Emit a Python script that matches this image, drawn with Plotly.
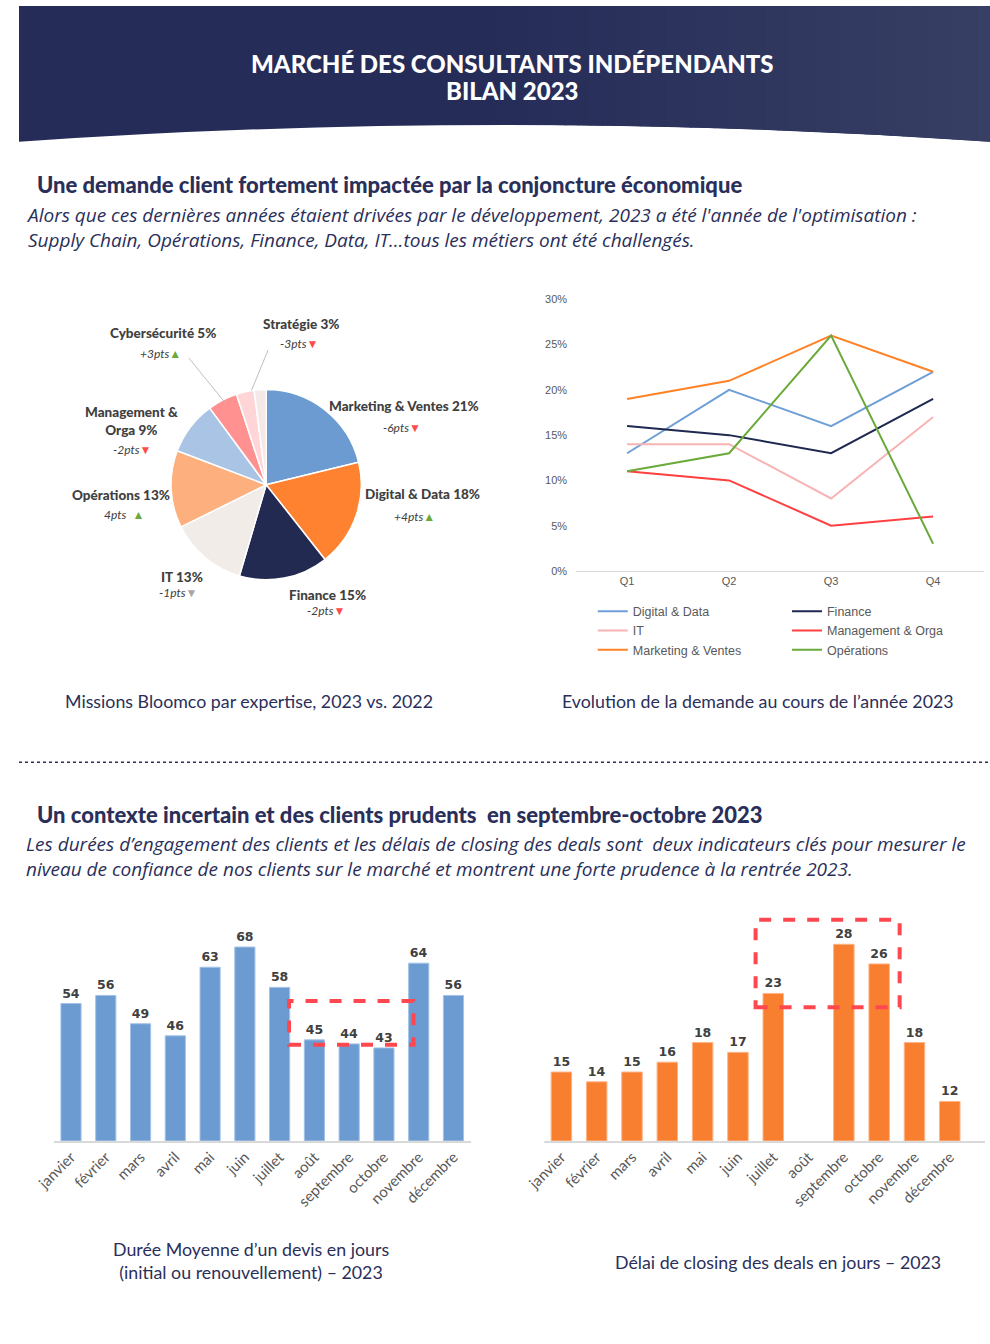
import plotly.graph_objects as go

W, H = 990, 1344

# ---------------- DATA ----------------
pie_labels = ["Marketing & Ventes", "Digital & Data", "Finance", "IT", "Opérations",
              "Management & Orga", "Cybersécurité", "Stratégie", "Autres"]
pie_values = [21, 18, 15, 13, 13, 9, 5, 3, 2]
pie_colors = ["#6C9BD2", "#FF8230", "#222A52", "#F2ECE9", "#FDB07D",
              "#A9C4E4", "#FF9191", "#FFD5D8", "#F4E9E6"]
pie_deltas = ["-6pts", "+4pts", "-2pts", "-1pts", "4pts", "-2pts", "+3pts", "-3pts", None]
pie_trend = ["down", "up", "down", "flat", "up", "down", "up", "down", None]

quarters = ["Q1", "Q2", "Q3", "Q4"]
line_series = {
    "Digital & Data": [13, 20, 16, 22],
    "Finance": [16, 15, 13, 19],
    "IT": [14, 14, 8, 17],
    "Management & Orga": [11, 10, 5, 6],
    "Marketing & Ventes": [19, 21, 26, 22],
    "Opérations": [11, 13, 26, 3],
}
line_colors = {
    "Digital & Data": "#6E9FD6",
    "Finance": "#1F2850",
    "IT": "#F8B4B4",
    "Management & Orga": "#FF4040",
    "Marketing & Ventes": "#FF8226",
    "Opérations": "#6AAA3A",
}
legend_col1 = ["Digital & Data", "IT", "Marketing & Ventes"]
pct_ticks = [0, 5, 10, 15, 20, 25, 30]
pct_labels = ["0%", "5%", "10%", "15%", "20%", "25%", "30%"]

months = ["janvier", "février", "mars", "avril", "mai", "juin", "juillet",
          "août", "septembre", "octobre", "novembre", "décembre"]
devis_days = [54, 56, 49, 46, 63, 68, 58, 45, 44, 43, 64, 56]
closing_days = [15, 14, 15, 16, 18, 17, 23, None, 28, 26, 18, 12]

NAVY = "#252C58"
TXT = "#2A2F5A"
LBL = "#404040"
GREY = "#595959"
FONT = "Lato"
IFONT = "Open Sans"


def px(x):
    return x / W


def py(y):
    return 1 - y / H


fig = go.Figure()

# ---------------- PIE ----------------
fig.add_trace(go.Pie(
    labels=pie_labels, values=pie_values, sort=False, direction="clockwise",
    rotation=0, marker=dict(colors=pie_colors, line=dict(color="white", width=1.5)),
    textinfo="none", hoverinfo="label+percent", showlegend=False,
    domain=dict(x=[px(155), px(349)], y=[py(580), py(386)]),
))

# ---------------- LINE CHART ----------------
for name, vals in line_series.items():
    fig.add_trace(go.Scatter(
        x=quarters, y=vals, mode="lines", name=name,
        line=dict(color=line_colors[name], width=2),
        xaxis="x", yaxis="y",
        legend="legend" if name in legend_col1 else "legend2",
    ))

# ---------------- BAR CHARTS ----------------
fig.add_trace(go.Bar(
    x=months, y=devis_days, xaxis="x2", yaxis="y2", showlegend=False,
    marker=dict(color="#6C9BD2", line=dict(color="#A4C2E6", width=1)),
    width=0.58,
    text=devis_days, textposition="outside", cliponaxis=False,
    textfont=dict(family="DejaVu Sans", size=12.5, color=LBL, weight="bold"),
))
fig.add_trace(go.Bar(
    x=months, y=closing_days, xaxis="x3", yaxis="y3", showlegend=False,
    marker=dict(color="#F87E30", line=dict(color="#FFB488", width=1)),
    width=0.58,
    text=[v if v is not None else "" for v in closing_days],
    textposition="outside", cliponaxis=False,
    textfont=dict(family="DejaVu Sans", size=12.5, color=LBL, weight="bold"),
))

shapes = []
annotations = []

# ---------------- HEADER ----------------
def curve_y(x):
    t = x / W
    return 137 - 68 * t * (1 - t)

shapes.append(dict(
    type="path", xref="paper", yref="paper", layer="below",
    path=f"M 0,{py(0)} L 1,{py(0)} L 1,{py(137)} Q 0.5,{py(103)} 0,{py(137)} Z",
    fillcolor=NAVY, line=dict(width=0),
))
c0 = (0x25, 0x2C, 0x58)
c1 = (0x37, 0x3F, 0x64)
n = 40
x_start = 480
for i in range(n):
    xa = x_start + (W - x_start) * i / n
    xb = min(x_start + (W - x_start) * (i + 1) / n + 1.5, W)
    f = (i + 0.5) / n
    col = "rgb({},{},{})".format(*[round(c0[k] + (c1[k] - c0[k]) * f) for k in range(3)])
    shapes.append(dict(
        type="path", xref="paper", yref="paper", layer="below",
        path=(f"M {px(xa)},{py(0)} L {px(xb)},{py(0)} L {px(xb)},{py(curve_y(xb))} "
              f"L {px(xa)},{py(curve_y(xa))} Z"),
        fillcolor=col, line=dict(width=0),
    ))

for txt, yy in [("MARCHÉ DES CONSULTANTS INDÉPENDANTS", 58), ("BILAN 2023", 85)]:
    annotations.append(dict(
        x=px(503), y=py(yy), xref="paper", yref="paper", showarrow=False,
        text=txt, font=dict(family=FONT, size=24, color="white", weight=900),
        align="center", xanchor="center", yanchor="middle",
    ))

# ---------------- SECTION TEXTS ----------------
def left_text(x, y, text, size, family=FONT, weight="normal", italic=False, color=TXT):
    t = f"<i>{text}</i>" if italic else text
    annotations.append(dict(x=px(x), y=py(y), xref="paper", yref="paper", showarrow=False,
                            text=t, font=dict(family=family, size=size, color=color, weight=weight),
                            xanchor="left", yanchor="middle", align="left"))


def center_text(x, y, text, size, color=TXT, family=FONT):
    annotations.append(dict(x=px(x), y=py(y), xref="paper", yref="paper", showarrow=False,
                            text=text, font=dict(family=family, size=size, color=color),
                            xanchor="center", yanchor="middle", align="center"))


left_text(16, 180, "Une demande client fortement impactée par la conjoncture économique", 22, weight=900)
left_text(5, 223, "Alors que ces dernières années étaient drivées par le développement, 2023 a été l'année de l'optimisation :"
          "<br>Supply Chain, Opérations, Finance, Data, IT…tous les métiers ont été challengés.", 19, family=IFONT, italic=True)

left_text(16, 816, "Un contexte incertain et des clients prudents  en septembre-octobre 2023", 22, weight=900)
left_text(5, 858, "Les durées d’engagement des clients et les délais de closing des deals sont  deux indicateurs clés pour mesurer le"
          "<br>niveau de confiance de nos clients sur le marché et montrent une forte prudence à la rentrée 2023.", 19, family=IFONT, italic=True)

center_text(234, 701, "Missions Bloomco par expertise, 2023 vs. 2022", 17.8)
center_text(753, 701, "Evolution de la demande au cours de l’année 2023", 17.8)
center_text(237, 1266, "Durée Moyenne d’un devis en jours<br>(initial ou renouvellement) – 2023", 17.8)
center_text(774, 1267, "Délai de closing des deals en jours – 2023", 17.8)

shapes.append(dict(type="line", xref="paper", yref="paper",
                   x0=0, x1=1, y0=py(763), y1=py(763),
                   line=dict(color=TXT, width=1.5, dash="dot")))

# ---------------- PIE LABELS ----------------
tri = {"up": ("▲", "#6AAA3A"), "down": ("▼", "#FF4B4B"), "flat": ("▼", "#A6A6A6")}
pie_label_pos = {
    "Marketing & Ventes": (393, 404, 390, 425),
    "Digital & Data": (411, 492, 403, 515),
    "Finance": (315, 594, 313, 610),
    "IT": (166, 576, 162, 592),
    "Opérations": (104, 493, 107, 513),
    "Management & Orga": (115, 419, 115, 448),
    "Cybersécurité": (147, 330, 144, 351),
    "Stratégie": (288, 321, 285, 341),
}
pie_label_text = {"Management & Orga": "Management &<br>Orga"}
for lab, val, d, tr in zip(pie_labels, pie_values, pie_deltas, pie_trend):
    if lab not in pie_label_pos:
        continue
    lx, ly, dx, dy = pie_label_pos[lab]
    name = pie_label_text.get(lab, lab)
    annotations.append(dict(x=px(lx), y=py(ly), xref="paper", yref="paper", showarrow=False,
                            text=f"{name} {val}%",
                            font=dict(family=FONT, size=13.5, color=LBL, weight=900),
                            xanchor="center", yanchor="middle", align="center"))
    g, c = tri[tr]
    gap = "  " if lab == "Opérations" else ""
    annotations.append(dict(x=px(dx), y=py(dy), xref="paper", yref="paper", showarrow=False,
                            text=f"<i>{d}</i>{gap}<span style='color:{c}'>{g}</span>",
                            font=dict(family=FONT, size=12, color=LBL),
                            xanchor="center", yanchor="middle"))

shapes.append(dict(type="line", xref="paper", yref="paper",
                   x0=px(173), y0=py(355), x1=px(210), y1=py(400),
                   line=dict(color="#BFBFBF", width=1)))
shapes.append(dict(type="line", xref="paper", yref="paper",
                   x0=px(254), y0=py(347), x1=px(237), y1=py(388),
                   line=dict(color="#BFBFBF", width=1)))

# ---------------- HIGHLIGHT BOXES ----------------
shapes.append(dict(type="rect", xref="x2", yref="y2", x0=6.27, x1=9.85, y0=43.8, y1=54.6,
                   line=dict(color="#FF474F", width=4, dash="dash")))
shapes.append(dict(type="rect", xref="x3", yref="y3", x0=5.5, x1=9.58, y0=21.6, y1=30.5,
                   line=dict(color="#FF474F", width=4, dash="dash")))

# ---------------- LAYOUT ----------------
month_font = dict(family=FONT, size=15, color=GREY)
legend_font = dict(family="Liberation Sans", size=12.5, color=GREY)
fig.update_layout(
    width=W, height=H, margin=dict(l=0, r=0, t=0, b=0),
    paper_bgcolor="white", plot_bgcolor="white",
    font=dict(family=FONT, color=TXT),
    shapes=shapes, annotations=annotations,
    xaxis=dict(domain=[px(568), px(984)], anchor="y", type="category",
               range=[-0.5, 3.5], showgrid=False, zeroline=False,
               showline=True, linecolor="#D9D9D9", linewidth=1, ticks="",
               tickfont=dict(family="Liberation Sans", size=11, color=GREY)),
    yaxis=dict(domain=[py(570), py(296)], anchor="x", range=[0, 30],
               tickmode="array", tickvals=pct_ticks, ticktext=pct_labels,
               showgrid=False, zeroline=False, showline=False, ticks="",
               ticklabelstandoff=8,
               tickfont=dict(family="Liberation Sans", size=11, color=GREY)),
    xaxis2=dict(domain=[px(35.3), px(460.7)], anchor="y2", type="category",
                range=[-0.5, 11.5], showgrid=False, zeroline=False,
                showline=True, linecolor="#D9D9D9", linewidth=1.5, ticks="",
                tickangle=-45, tickfont=month_font),
    yaxis2=dict(domain=[py(1145), py(921)], anchor="x2", range=[20, 75],
                visible=False, showgrid=False),
    xaxis3=dict(domain=[px(535), px(985)], anchor="y3", type="category",
                range=[-0.5, 12.0], showgrid=False, zeroline=False,
                showline=True, linecolor="#D9D9D9", linewidth=1.5, ticks="",
                tickangle=-45, tickfont=month_font),
    yaxis3=dict(domain=[py(1145), py(917)], anchor="x3", range=[8, 31],
                visible=False, showgrid=False),
    legend=dict(x=px(585), y=py(596), xanchor="left", yanchor="top",
                orientation="v", tracegroupgap=0, itemwidth=30,
                font=legend_font, bgcolor="rgba(0,0,0,0)"),
    legend2=dict(x=px(783), y=py(596), xanchor="left", yanchor="top",
                 orientation="v", tracegroupgap=0, itemwidth=30,
                 font=legend_font, bgcolor="rgba(0,0,0,0)"),
)

fig.write_html(
    "out.html",
    config={"displayModeBar": False},
    post_script="document.body.style.margin='0';",
)
